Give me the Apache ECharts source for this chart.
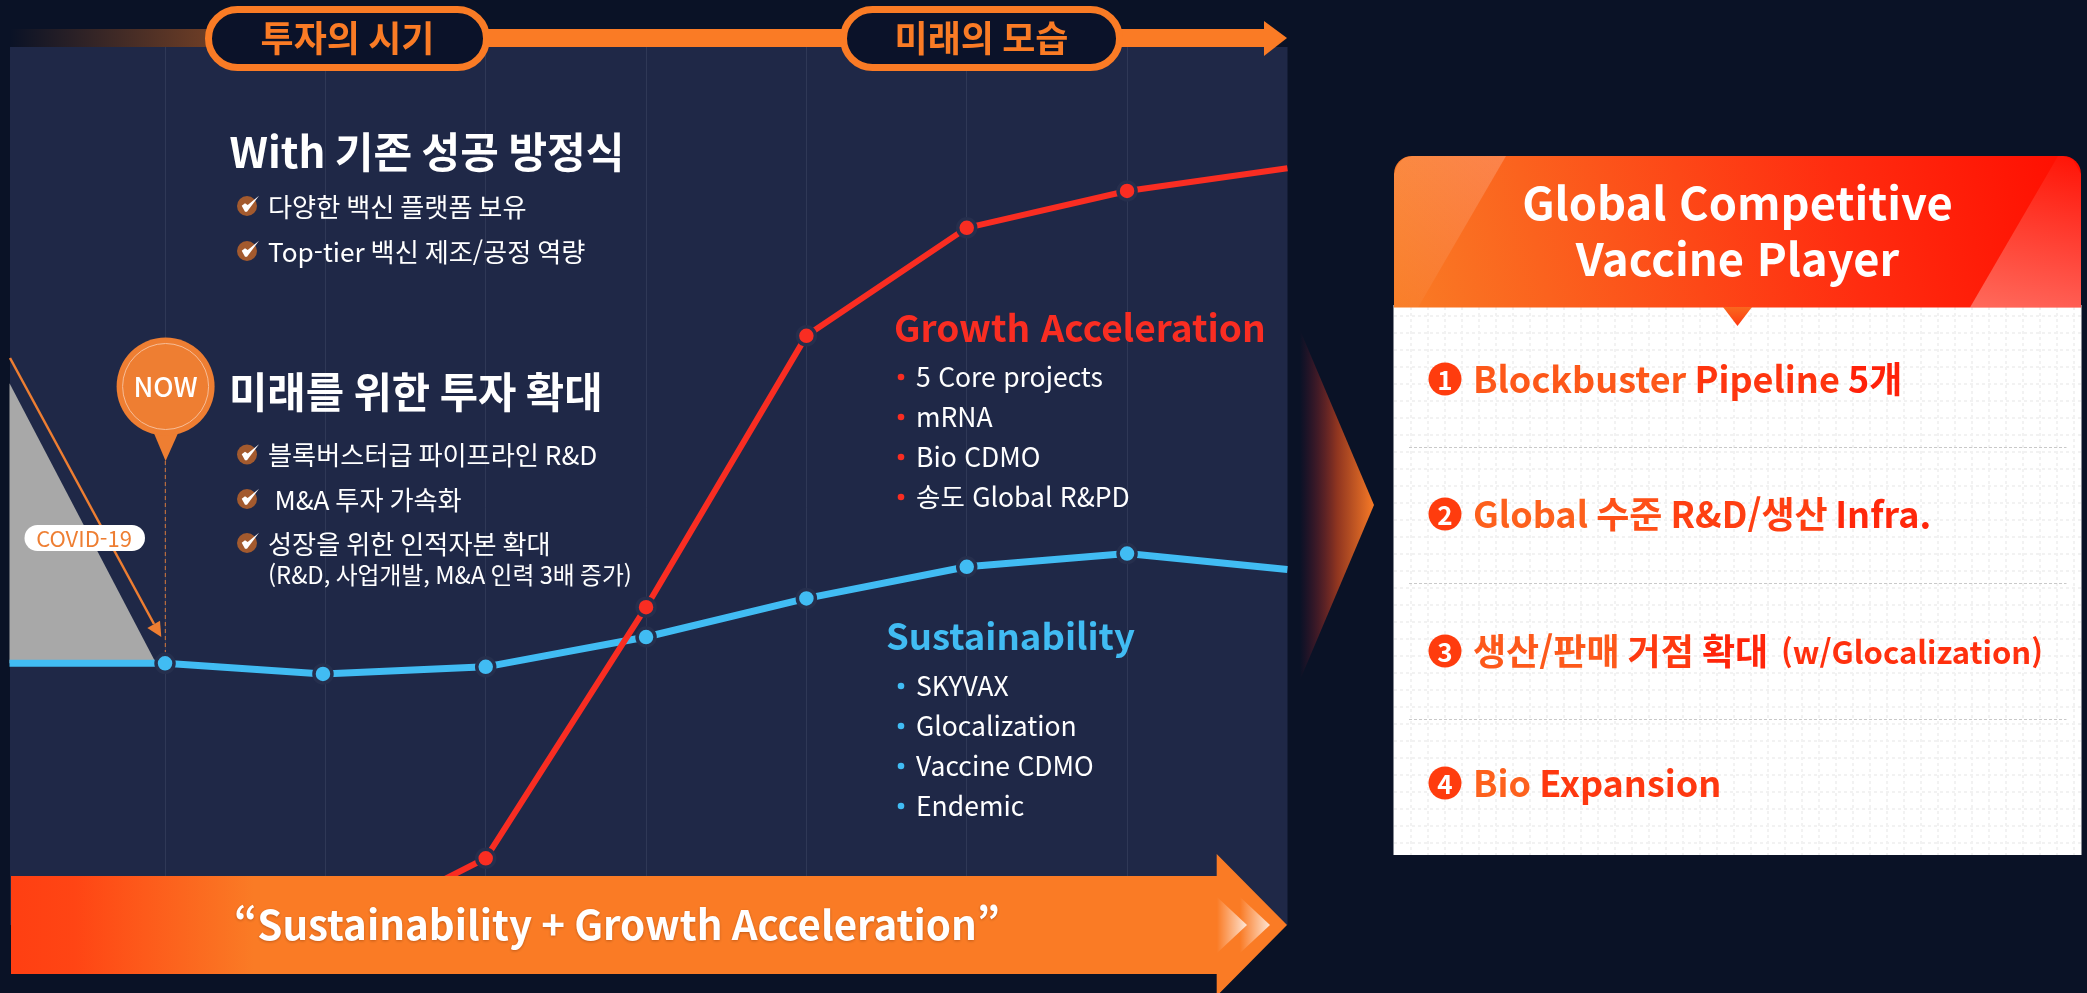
<!DOCTYPE html>
<html lang="ko">
<head>
<meta charset="utf-8">
<title>Global Competitive Vaccine Player</title>
<script src="https://cdn.jsdelivr.net/npm/echarts@6/dist/echarts.min.js"></script>
<style>html,body{margin:0;padding:0;background:#0a1226;overflow:hidden}#c{width:2087px;height:993px}</style>
</head>
<body>
<div id="c"></div>
<script>
// ---- data ----
const sustainabilityX = [-0.97, 0, 0.985, 2, 3, 4, 5, 6, 7];
const sustainabilityY = [29.8, 29.8, 28.6, 29.4, 32.8, 37.2, 40.8, 42.3, 40.5];
const growthX = [1, 2, 3, 4, 5, 6, 7];
const growthY = [-1.7, 7.6, 36.2, 67.1, 79.4, 83.6, 86.2];
const covidX = [-0.97, -0.056];
const covidY = [61.7, 29.8];
const covidBase = 29.8;

const phaseLabels = ['투자의 시기', '미래의 모습'];
const headA = 'With 기존 성공 방정식';
const headAItems = ['다양한 백신 플랫폼 보유', 'Top-tier 백신 제조/공정 역량'];
const headB = '미래를 위한 투자 확대';
const headBItems = ['블록버스터급 파이프라인 R&D', 'M&A 투자 가속화', '성장을 위한 인적자본 확대'];
const headBNote = '(R&D, 사업개발, M&A 인력 3배 증가)';
const growthItems = ['5 Core projects', 'mRNA', 'Bio CDMO', '송도 Global R&PD'];
const sustainItems = ['SKYVAX', 'Glocalization', 'Vaccine CDMO', 'Endemic'];
const bannerText = '“Sustainability + Growth Acceleration”';
const cardTitle = ['Global Competitive', 'Vaccine Player'];
const cardItems = ['Blockbuster Pipeline 5개', 'Global 수준 R&D/생산 Infra.', '생산/판매 거점 확대', 'Bio Expansion'];
const cardNote = '(w/Glocalization)';

// ---- style ----
const FONT = '"Noto Sans CJK KR","Noto Sans",sans-serif';
const BG = '#0a1226', PANEL = '#1f2847', ORANGE = '#fa7b25', RED = '#f92d22', BLUE = '#41bcf3';

function lin(x, y, x2, y2, stops) {
  return { type: 'linear', x, y, x2, y2, colorStops: stops.map(s => ({ offset: s[0], color: s[1] })) };
}
function txt(x, y, text, size, fill, weight, align, extra) {
  return {
    type: 'text', x, y, z: 50, silent: true,
    style: Object.assign({
      text, fill, fontSize: size, fontWeight: weight || 400, fontFamily: FONT,
      textAlign: align || 'left', textVerticalAlign: 'middle'
    }, extra || {})
  };
}
// Orange-to-red text: one colour per word, moving along the string.
function gradText(x, y, text, size, from, to) {
  const a = from == null ? [253, 106, 32] : from, b = to == null ? [255, 30, 8] : to;
  const words = text.split(' ');
  const rich = {};
  let seen = 0;
  const parts = words.map((w, i) => {
    const f = (seen + w.length / 2) / text.length;
    seen += w.length + 1;
    rich['w' + i] = {
      fill: 'rgb(' + a.map((v, k) => Math.round(v + (b[k] - v) * f)).join(',') + ')',
      fontSize: size, fontWeight: 700, fontFamily: FONT
    };
    return '{w' + i + '|' + w + '}';
  });
  return txt(x, y, parts.join(' '), size, '#ff4010', 700, 'left', { rich });
}
function poly(points, fill, z) {
  return { type: 'polygon', silent: true, z: z == null ? 20 : z, shape: { points }, style: { fill } };
}
function rect(x, y, w, h, fill, z, r, extra) {
  return { type: 'rect', silent: true, z: z == null ? 20 : z, shape: { x, y, width: w, height: h, r: r || 0 }, style: Object.assign({ fill }, extra || {}) };
}
function dot(cx, cy, r, fill, z) {
  return { type: 'circle', silent: true, z: z == null ? 30 : z, shape: { cx, cy, r }, style: { fill } };
}
function line(x1, y1, x2, y2, stroke, w, dash, z) {
  return { type: 'line', silent: true, z: z == null ? 30 : z, shape: { x1, y1, x2, y2 }, style: { stroke, lineWidth: w, lineDash: dash || null } };
}
function check(cx, cy) {
  const pts = [[-5.3, -0.3], [-2, 5.7], [0, 5.7], [12, -10.3], [0.7, -1], [-2, -2.7]].map(p => [cx + p[0], cy + p[1]]);
  return [dot(cx, cy, 10, '#a35a2e', 30), poly(pts, '#ffffff', 31)];
}

const g = [];
// panel behind the plot
g.push(rect(10, 47, 1277.5, 878, PANEL, -1));

// top band
g.push(rect(10, 29, 1256, 18, lin(0, 0, 1, 0, [[0, BG], [0.382, ORANGE], [1, ORANGE]]), 20));
g.push(poly([[1264, 21], [1287, 38], [1264, 56]], ORANGE, 20));
[[208.5, 278, 0], [843.5, 276, 1]].forEach(p => {
  g.push(rect(p[0], 9.5, p[1], 58, '#0b1229', 21, 29, { stroke: ORANGE, lineWidth: 7 }));
  g.push(txt(p[0] + p[1] / 2, 38, phaseLabels[p[2]], 36, ORANGE, 700, 'center'));
});

// arrow, dashed line, pin, COVID label
g.push(line(10, 358, 154, 624, '#ee7e32', 2.5));
g.push(poly([[161.3, 637], [147.3, 628], [160, 620.7]], '#ee7e32', 30));
g.push(line(165.3, 461, 165.3, 652, '#d9793a', 1, [4, 3]));
g.push(poly([[153, 431], [179, 431], [165.6, 461]], '#ee7e32', 30));
g.push(dot(165.6, 386.5, 49, '#ee7e32', 30));
g.push({ type: 'circle', silent: true, z: 31, shape: { cx: 165.6, cy: 386.5, r: 43 }, style: { fill: 'none', stroke: '#f7bd97', lineWidth: 1 } });
g.push(txt(165.6, 387, 'NOW', 27, '#ffffff', 500, 'center'));
g.push(rect(24.5, 525, 120.5, 26, '#ffffff', 40, 13));
g.push(txt(84, 538.5, 'COVID-19', 22, '#ee7e32', 400, 'center'));

// left text
g.push(txt(229.5, 152, headA, 42, '#ffffff', 700));
[206, 251].forEach((y, i) => {
  g.push(...check(247, y));
  g.push(txt(268, y + 1, headAItems[i], 26.2, '#ffffff'));
});
g.push(txt(229, 392, headB, 41.7, '#ffffff', 700));
[[454.5, 268], [499, 274.5], [543, 268]].forEach((p, i) => {
  g.push(...check(247, p[0]));
  g.push(txt(p[1], p[0] + 1, headBItems[i], 26.2, '#ffffff'));
});
g.push(txt(268, 575, headBNote, 23.8, '#ffffff'));

// series captions
g.push(txt(894, 328, 'Growth Acceleration', 37, RED, 700));
[377, 417, 457, 497].forEach((y, i) => {
  g.push(dot(901, y, 3.3, RED));
  g.push(txt(916, y, growthItems[i], 26.5, '#ffffff'));
});
g.push(txt(886, 636, 'Sustainability', 36.5, BLUE, 700));
[686, 726, 766, 806].forEach((y, i) => {
  g.push(dot(901, y, 3.3, BLUE));
  g.push(txt(916, y, sustainItems[i], 26.5, '#ffffff'));
});

// bottom banner
g.push(poly([[11, 876], [1216.7, 876], [1216.7, 854], [1287, 925], [1216.7, 996], [1216.7, 974], [11, 974]],
  lin(0, 0, 1, 0, [[0, '#ff3f12'], [0.05, '#ff4514'], [0.19, ORANGE], [1, ORANGE]]), 40));
[[1217, 1247], [1240, 1270]].forEach(p => {
  g.push(poly([[p[0], 897], [p[1], 925], [p[0], 953]], lin(0, 0, 1, 0, [[0, 'rgba(255,255,255,0)'], [1, 'rgba(255,255,255,0.8)']]), 41));
});
g.push(txt(234, 925, bannerText, 40.3, '#ffffff', 700, 'left', { textShadowColor: 'rgba(90,30,0,0.35)', textShadowBlur: 3, textShadowOffsetY: 1 }));

// middle chevron
g.push(poly([[1300, 330], [1374, 505], [1300, 680]], lin(0, 0, 1, 0, [[0, 'rgba(110,20,45,0)'], [0.5, '#8f3520'], [1, '#f77a26']]), 20));

// card
g.push(rect(1393.5, 305, 688, 550, '#ffffff', 20));
for (let x = 1411; x < 2081; x += 17) g.push(line(x, 307, x, 855, '#f2f2f2', 2, [3, 3], 21));
for (let y = 316; y < 855; y += 17) g.push(line(1394, y, 2081, y, '#f2f2f2', 2, [3, 3], 21));
g.push(rect(1394, 156, 687, 151.5, lin(0, 1, 1, 0, [[0, '#f97d25'], [0.65, '#ff2d10'], [1, '#ff0d00']]), 22, [18, 18, 0, 0]));
g.push(poly([[1412, 156], [1506, 156], [1418, 307.5], [1394, 307.5], [1394, 174], [1398, 164], [1404, 158]],
  lin(1, 0, 0, 1, [[0, 'rgba(255,255,255,0.2)'], [1, 'rgba(255,255,255,0.02)']]), 23));
g.push(poly([[2058, 156], [2063, 156], [2073, 160], [2081, 174], [2081, 307.5], [1970, 307.5]],
  lin(0.5, 0, 0.4, 1, [[0, 'rgba(255,255,255,0.03)'], [1, 'rgba(255,255,255,0.33)']]), 23));
g.push(poly([[1723, 307], [1752, 307], [1737.5, 326]], lin(0, 0, 0, 1, [[0, '#f9681e'], [1, '#ff3a12']]), 23));
g.push(txt(1737.5, 203, cardTitle[0], 45.2, '#ffffff', 700, 'center'));
g.push(txt(1737.5, 259, cardTitle[1], 45.2, '#ffffff', 700, 'center'));
[447, 583, 719].forEach(y => g.push(line(1409, y + 0.5, 2066.5, y + 0.5, '#c9c9c9', 1, [3, 2], 24)));

const itemY = [379, 514, 651, 783];
itemY.forEach((y, i) => {
  g.push(dot(1445, y, 16.5, '#ff3c0e', 30));
  g.push(txt(1445, y + 1, String(i + 1), 26, '#ffffff', 700, 'center'));
  g.push(gradText(1473, y, cardItems[i], 36));
});
g.push(gradText(1781, itemY[2] + 1, cardNote, 31, [255, 60, 18], [255, 36, 10]));

const markerOnly = (val) => (val[0] >= 7 || val[0] < 0) ? 'none' : 'circle';
const lineSeries = (name, xs, ys, color, width) => ({
  name, type: 'line', data: xs.map((x, i) => [x, ys[i]]), z: 5,
  lineStyle: { color, width, cap: 'butt' }, itemStyle: { color, borderColor: '#262f4d', borderWidth: 3.5, opacity: 1 },
  symbol: markerOnly, symbolSize: 18, showAllSymbol: true, animation: false, silent: true
});

const chart = echarts.init(document.getElementById('c'), null, { renderer: 'canvas' });
chart.setOption({
  backgroundColor: BG,
  animation: false,
  grid: { left: 4.7, top: 47, width: 1282.7, height: 921.9, containLabel: false },
  xAxis: {
    type: 'value', min: -1, max: 7, interval: 1,
    axisLine: { show: false }, axisTick: { show: false }, axisLabel: { show: false },
    splitLine: { show: true, showMinLine: false, showMaxLine: false, lineStyle: { color: '#2f3856', width: 1 } }
  },
  yAxis: { type: 'value', min: -5, max: 100, show: false, splitLine: { show: false } },
  series: [
    {
      name: 'COVID-19', type: 'line', data: covidX.map((x, i) => [x, covidY[i]]), z: 3,
      symbol: 'none', lineStyle: { width: 0 },
      areaStyle: { color: '#a8a8a8', opacity: 1, origin: covidBase }, silent: true
    },
    lineSeries('Sustainability', sustainabilityX, sustainabilityY, BLUE, 7),
    Object.assign(lineSeries('Growth Acceleration', growthX, growthY, RED, 6), { z: 6 })
  ],
  graphic: { elements: g }
});
</script>
</body>
</html>
